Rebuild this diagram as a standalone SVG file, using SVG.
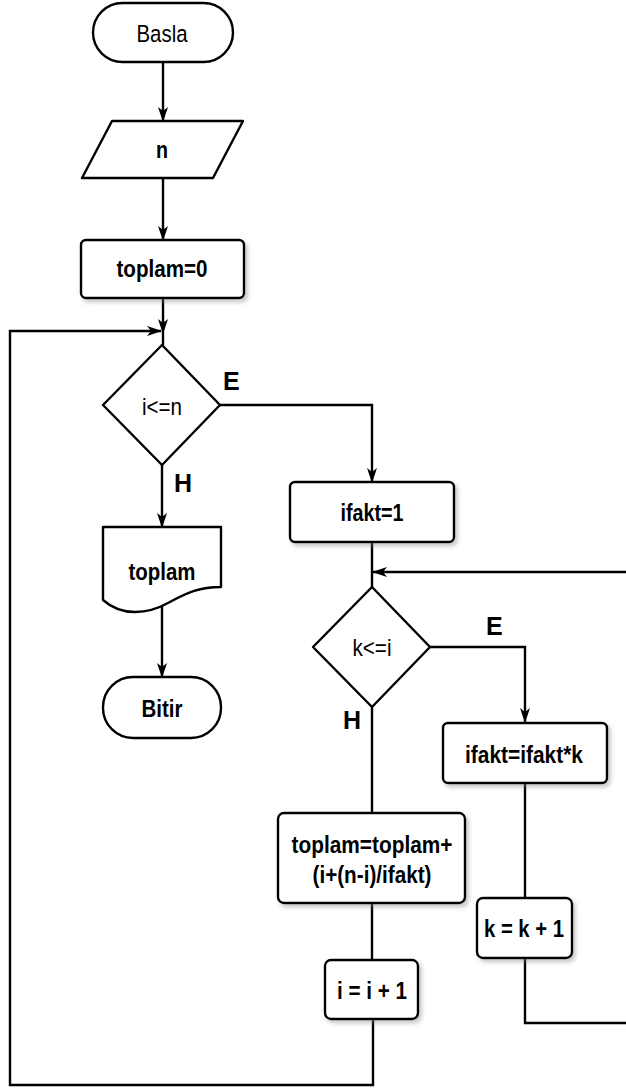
<svg xmlns="http://www.w3.org/2000/svg" width="626" height="1089" viewBox="0 0 626 1089">
  <style>
    .shape { fill: #ffffff; stroke: #000000; stroke-width: 2.4; stroke-linejoin: round; }
    .box { fill: #ffffff; stroke: #000000; stroke-width: 2.4; filter: url(#shadow); }
    .wire { fill: none; stroke: #000000; stroke-width: 2.4; }
    .t { font-family: "Liberation Sans Narrow", "Liberation Sans", Arial, sans-serif; font-size: 24.5px; fill: #000000; text-anchor: middle; }
    .b { font-weight: bold; }
    .lbl { font-family: "Liberation Sans", Arial, sans-serif; font-size: 25px; font-weight: bold; fill: #000000; }
  </style>
  <defs>
    <filter id="shadow" x="-10%" y="-10%" width="130%" height="140%">
      <feDropShadow dx="2.5" dy="3" stdDeviation="2" flood-color="#808080" flood-opacity="0.45"/>
    </filter>
    <marker id="arrow" markerUnits="userSpaceOnUse" markerWidth="15" markerHeight="10" refX="14" refY="5" orient="auto">
      <path d="M0,0 L15,5 L0,10 L4,5 z" fill="#000000"/>
    </marker>
  </defs>

  <!-- connectors -->
  <g id="connectors">
    <path class="wire" d="M163,62 V121" marker-end="url(#arrow)"/>
    <path class="wire" d="M163,178 V240" marker-end="url(#arrow)"/>
    <path class="wire" d="M163,298 V333" marker-end="url(#arrow)"/>
    <path class="wire" d="M163,333 V345"/>
    <path class="wire" d="M162,465 V527" marker-end="url(#arrow)"/>
    <path class="wire" d="M220,405 H372 V482" marker-end="url(#arrow)"/>
    <path class="wire" d="M162,606 V677" marker-end="url(#arrow)"/>
    <path class="wire" d="M372,542 V587"/>
    <path class="wire" d="M626,572 H373" marker-end="url(#arrow)"/>
    <path class="wire" d="M430,647 H525 V722" marker-end="url(#arrow)"/>
    <path class="wire" d="M372,707 V813"/>
    <path class="wire" d="M525,783 V898"/>
    <path class="wire" d="M372,903 V960"/>
    <path class="wire" d="M525,958 V1023 H626"/>
    <path class="wire" d="M373,1019 V1085 H10 V331 H161" marker-end="url(#arrow)"/>
  </g>

  <!-- branch labels -->
  <g id="labels">
    <text class="lbl" x="223" y="390">E</text>
    <text class="lbl" x="174" y="492">H</text>
    <text class="lbl" x="486" y="635">E</text>
    <text class="lbl" x="343" y="729">H</text>
  </g>

  <g id="start">
    <rect class="shape" x="93" y="3" width="140" height="59" rx="29.5"/>
    <text class="t" x="162" y="42" textLength="51" lengthAdjust="spacingAndGlyphs">Basla</text>
  </g>

  <g id="input-n">
    <polygon class="shape" points="112,121 243,121 213,178 82,178"/>
    <text class="t b" x="162" y="158" textLength="12" lengthAdjust="spacingAndGlyphs">n</text>
  </g>

  <g id="init-toplam">
    <rect class="box" x="81" y="240" width="163" height="58" rx="5"/>
    <text class="t b" x="162" y="277" textLength="91" lengthAdjust="spacingAndGlyphs">toplam=0</text>
  </g>

  <g id="cond-i">
    <polygon class="shape" points="162,345 220,405 162,465 103,405"/>
    <text class="t" x="162" y="415" textLength="40" lengthAdjust="spacingAndGlyphs">i&lt;=n</text>
  </g>

  <g id="output-toplam">
    <path class="shape" d="M103,527 H221 V587 C200,587 188,592 168,603 C148,614 122,617 103,600 Z"/>
    <text class="t b" x="162" y="580" textLength="67" lengthAdjust="spacingAndGlyphs">toplam</text>
  </g>

  <g id="end">
    <rect class="shape" x="103" y="677" width="118" height="61" rx="30"/>
    <text class="t b" x="162" y="717" textLength="41" lengthAdjust="spacingAndGlyphs">Bitir</text>
  </g>

  <g id="init-ifakt">
    <rect class="box" x="290" y="482" width="164" height="60" rx="5"/>
    <text class="t b" x="372" y="521" textLength="63" lengthAdjust="spacingAndGlyphs">ifakt=1</text>
  </g>

  <g id="cond-k">
    <polygon class="shape" points="372,587 430,647 372,707 313,647"/>
    <text class="t" x="372" y="656" textLength="39" lengthAdjust="spacingAndGlyphs">k&lt;=i</text>
  </g>

  <g id="mult-ifakt">
    <rect class="box" x="443" y="723" width="164" height="60" rx="5"/>
    <text class="t b" x="524" y="763" textLength="118" lengthAdjust="spacingAndGlyphs">ifakt=ifakt*k</text>
  </g>

  <g id="add-toplam">
    <rect class="box" x="278" y="813" width="187" height="90" rx="6"/>
    <text class="t b" x="372" y="853" textLength="161" lengthAdjust="spacingAndGlyphs">toplam=toplam+</text>
    <text class="t b" x="372" y="883" textLength="119" lengthAdjust="spacingAndGlyphs">(i+(n-i)/ifakt)</text>
  </g>

  <g id="inc-k">
    <rect class="box" x="477" y="898" width="95" height="60" rx="6"/>
    <text class="t b" x="524" y="937" textLength="80" lengthAdjust="spacingAndGlyphs">k = k + 1</text>
  </g>

  <g id="inc-i">
    <rect class="box" x="325" y="960" width="93" height="59" rx="6"/>
    <text class="t b" x="372" y="999" textLength="70" lengthAdjust="spacingAndGlyphs">i = i + 1</text>
  </g>
</svg>
